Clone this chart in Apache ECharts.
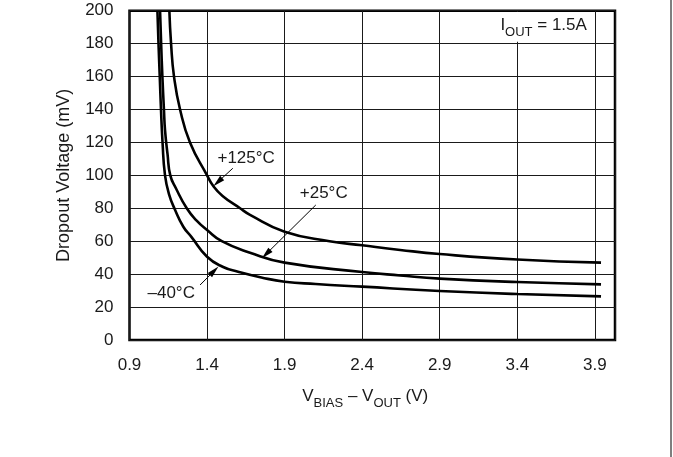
<!DOCTYPE html>
<html><head><meta charset="utf-8">
<script src="https://cdn.jsdelivr.net/npm/echarts@6/dist/echarts.min.js"></script>
<style>html,body{margin:0;padding:0;background:#fff}#c{width:673px;height:457px}</style>
</head><body><div id="c"></div>
<script>
// ---- data (V_BIAS - V_OUT in volts, dropout in mV) ----
const X0 = 0.9;                    // first x tick value (axis offset)
const X_MAX = 4.03;
const xTickLabels = ['0.9', '1.4', '1.9', '2.4', '2.9', '3.4', '3.9'];
const yTickLabels = ['0', '20', '40', '60', '80', '100', '120', '140', '160', '180', '200'];

const t125V  = [1.157, 1.168, 1.187, 1.226, 1.29, 1.40, 1.44, 1.50, 1.613, 1.677, 1.9,  2.19, 2.4,  2.645, 2.9,  3.4,  3.94];
const t125mV = [200,   180,   160,   140,   120,  100,  93.5, 87.5, 80,    76,    65.8, 60,   57.5, 54.7,  52.2, 48.9, 47];

const t25V  = [1.097, 1.104, 1.112, 1.122, 1.129, 1.145, 1.163, 1.20, 1.269, 1.333, 1.40, 1.495, 1.677, 1.9, 2.4,  2.645, 2.9,  3.4,  3.94];
const t25mV = [200,   180,   160,   140,   127.5, 113,   100,   92,   80,    72.5,  66.8, 60,    53,    47,  41.3, 39.2,  37.3, 35.2, 33.8];

const tm40V  = [1.08, 1.087, 1.095, 1.103, 1.113, 1.129, 1.155, 1.194, 1.247, 1.30, 1.40, 1.50, 1.60, 1.75, 1.9,  2.1, 2.4,  2.9,  3.4,  3.94];
const tm40mV = [200,  180,   160,   140,   120,   100,   88.5,  79,    68.8,  62.5, 50.6, 44.5, 41.5, 38,   35.4, 34,  32.4, 29.8, 27.9, 26.5];

// annotation anchors (data coords): label centre, arrow start, arrow head centre
const ann125 = { text: '+125°C', at: [1.652, 110.5], from: [1.566, 104.3], to: [1.469, 95.9] };
const ann25  = { text: '+25°C',  at: [2.152, 89],    from: [2.101, 82],    to: [1.781, 52.2] };
const annm40 = { text: '–40°C',  at: [1.169, 28.5],  from: [1.355, 33.4],  to: [1.446, 42] };
const condText = '{n|I}{s|OUT}{n| = 1.5A}';
const condAt = [3.852, 189.8];
const condBox = [[2.95, 199.2], [3.885, 181.2]];

const FONT = "'Liberation Sans', Arial, Helvetica, sans-serif";
const TXT = '#1a1a1a';
const pts = (xs, ys) => xs.map((x, i) => [x - X0, ys[i]]);
const c = v => [v[0] - X0, v[1]];
const subRich = {
  n: { fontSize: 17, fontFamily: FONT, color: TXT, lineHeight: 22, verticalAlign: 'top' },
  s: { fontSize: 13, fontFamily: FONT, color: TXT, lineHeight: 22, verticalAlign: 'bottom' }
};

function annotate(a) {
  return {
    markLine: {
      silent: true, symbol: ['none', 'triangle'], symbolSize: [6, 12], animation: false,
      lineStyle: { color: '#000', width: 1, type: 'solid' },
      itemStyle: { color: '#000' },
      label: { show: false }, emphasis: { disabled: true },
      data: [[{ coord: c(a.from) }, { coord: c(a.to) }]]
    },
    markPoint: {
      silent: true, symbol: 'circle', symbolSize: 1, animation: false,
      itemStyle: { color: 'rgba(0,0,0,0)' },
      label: { show: true, position: 'inside', color: TXT, fontSize: 17, fontFamily: FONT, formatter: a.text },
      data: [{ coord: c(a.at) }]
    }
  };
}

const chart = echarts.init(document.getElementById('c'), null, { renderer: 'canvas' });
const lineBase = { type: 'line', showSymbol: false, smooth: 0.5, animation: false, silent: true,
  lineStyle: { color: '#000', width: 2.6 }, z: 3 };

chart.setOption({
  backgroundColor: '#fff',
  animation: false,
  grid: { left: 129.5, right: 58, top: 10.7, bottom: 117, show: true, borderColor: '#000', borderWidth: 2.5, backgroundColor: 'transparent' },
  xAxis: {
    type: 'value', min: 0, max: X_MAX - X0, interval: 0.5,
    axisLine: { show: false }, axisTick: { show: false },
    splitLine: { show: true, lineStyle: { color: '#1a1a1a', width: 1 } },
    axisLabel: {
      margin: 17, color: TXT, fontSize: 17, fontFamily: FONT, showMaxLabel: true,
      formatter: v => { const i = Math.round(v / 0.5); return Math.abs(v - i * 0.5) < 1e-6 && xTickLabels[i] ? xTickLabels[i] : ''; }
    },
    name: '{n|V}{s|BIAS}{n| – V}{s|OUT}{n| (V)}',
    nameLocation: 'middle', nameGap: 48,
    nameTextStyle: { padding: [0, 14, 0, 0], rich: subRich }
  },
  yAxis: {
    type: 'value', min: 0, max: 200, interval: 20,
    axisLine: { show: false }, axisTick: { show: false },
    splitLine: { show: true, lineStyle: { color: '#1a1a1a', width: 1 } },
    axisLabel: {
      margin: 16, color: TXT, fontSize: 17, fontFamily: FONT,
      formatter: v => yTickLabels[Math.round(v / 20)] || ''
    },
    name: 'Dropout Voltage (mV)', nameLocation: 'middle', nameGap: 56, nameRotate: 90,
    nameTextStyle: { color: TXT, fontSize: 18, fontFamily: FONT }
  },
  series: [
    Object.assign({}, lineBase, { name: '+125°C', data: pts(t125V, t125mV) }, annotate(ann125)),
    Object.assign({}, lineBase, { name: '+25°C', data: pts(t25V, t25mV) }, annotate(ann25)),
    Object.assign({}, lineBase, { name: '–40°C', data: pts(tm40V, tm40mV) }, annotate(annm40)),
    {
      type: 'line', data: [], silent: true, z: 5,
      markArea: {
        silent: true, animation: false,
        itemStyle: { color: '#fff', opacity: 1 },
        data: [[{ coord: c(condBox[0]) }, { coord: c(condBox[1]) }]]
      },
      markPoint: {
        silent: true, symbol: 'circle', symbolSize: 1, animation: false,
        itemStyle: { color: 'rgba(0,0,0,0)' },
        label: { show: true, position: 'left', distance: 0, formatter: condText, rich: subRich },
        data: [{ coord: c(condAt) }]
      }
    }
  ],
  graphic: [
    { type: 'rect', left: 670.5, top: 0, shape: { width: 1, height: 457 }, style: { fill: '#000' }, silent: true }
  ]
});
</script>
</body></html>
